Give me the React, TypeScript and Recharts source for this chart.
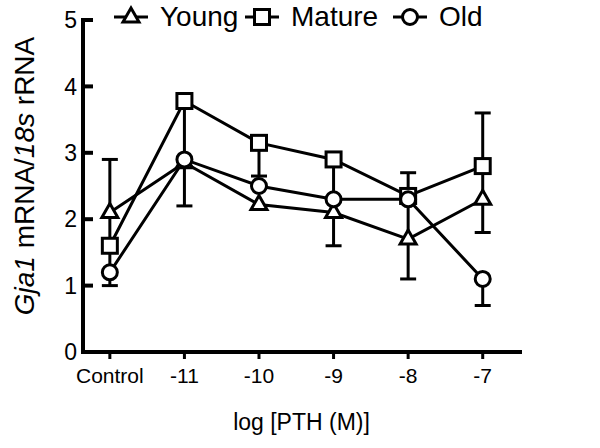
import React from 'react';
import { LineChart, Line, XAxis, YAxis, ErrorBar, Label } from 'recharts';

const FONT = '"Liberation Sans", Arial, sans-serif';

const categories = ['Control', '-11', '-10', '-9', '-8', '-7'];
const young = [2.1, 2.85, 2.22, 2.1, 1.7, 2.3];
const mature = [1.6, 3.78, 3.15, 2.9, 2.35, 2.8];
const old = [1.2, 2.9, 2.5, 2.3, 2.3, 1.1];

// error bar ends, [low, high]; null = no bar visible
const youngErr = [[1.6, 2.9], [2.2, 3.78], null, [1.6, 2.9], [1.1, 2.35], [1.8, 2.8]];
const matureErr = [[1.2, 1.6], null, [2.65, 3.15], null, [2.35, 2.7], [2.8, 3.6]];
const oldErr = [[1.0, 1.2], null, null, null, null, [0.7, 1.1]];

const yTicks = [0, 1, 2, 3, 4, 5];

const toDelta = (v: number, e: number[] | null) => (e ? [v - e[0], e[1] - v] : null);

const rows = categories.map((c, i) => ({
  idx: i,
  label: c,
  young: young[i],
  mature: mature[i],
  old: old[i],
  youngErr: toDelta(young[i], youngErr[i]),
  matureErr: toDelta(mature[i], matureErr[i]),
  oldErr: toDelta(old[i], oldErr[i]),
}));

const SW = 3;

const Triangle = ({ cx, cy, k }: any) => (
  <polygon
    key={k}
    points={`${cx - 8},${cy + 5} ${cx + 8},${cy + 5} ${cx},${cy - 9}`}
    fill="#fff"
    stroke="#000"
    strokeWidth={SW}
  />
);
const Square = ({ cx, cy, k }: any) => (
  <rect key={k} x={cx - 7.5} y={cy - 7.5} width={15} height={15} fill="#fff" stroke="#000" strokeWidth={SW} />
);
const Circle = ({ cx, cy, k }: any) => (
  <circle key={k} cx={cx} cy={cy} r={7.5} fill="#fff" stroke="#000" strokeWidth={SW} />
);

const YTick = (props: any) => {
  const { x, y, payload } = props;
  return (
    <g>
      <line x1={x} x2={x + 10} y1={y} y2={y} stroke="#000" strokeWidth={4} />
      <text x={x - 6} y={y} dy="0.36em" textAnchor="end" fontSize={23} fontFamily={FONT} fill="#000">
        {payload.value}
      </text>
    </g>
  );
};

const YTitle = () => (
  <text
    x={24}
    y={176}
    transform="rotate(-90, 24, 176)"
    textAnchor="middle"
    dy="0.36em"
    fontSize={28}
    fontFamily={FONT}
    fill="#000"
  >
    <tspan fontStyle="italic">Gja1</tspan>
    <tspan> mRNA/</tspan>
    <tspan fontStyle="italic">18s</tspan>
    <tspan> rRNA</tspan>
  </text>
);

const LegendItem = ({ left, name, marker }: { left: number; name: string; marker: string }) => (
  <div style={{ position: 'absolute', left, top: 2, display: 'flex', alignItems: 'center', height: 30 }}>
    <svg width={36} height={30}>
      <line x1={1} x2={35} y1={15} y2={15} stroke="#000" strokeWidth={SW} />
      {marker === 'tri' && <Triangle cx={18} cy={15} />}
      {marker === 'sq' && <Square cx={18} cy={15} />}
      {marker === 'ci' && <Circle cx={18} cy={15} />}
    </svg>
    <span style={{ marginLeft: 11, fontSize: 28, lineHeight: '30px', fontFamily: FONT, color: '#000' }}>{name}</span>
  </div>
);

export default function App() {
  return (
    <div style={{ position: 'relative', width: 600, height: 448, background: '#fff' }}>
      <style>{'body{margin:0}'}</style>
      <LineChart width={600} height={448} data={rows} margin={{ top: 20, right: 80, bottom: 16, left: 43 }}>
        <XAxis
          type="number"
          dataKey="idx"
          domain={[-0.36, 5.5]}
          ticks={[0, 1, 2, 3, 4, 5]}
          tickFormatter={(v) => categories[v]}
          allowDataOverflow
          height={80}
          axisLine={{ stroke: '#000', strokeWidth: 4, strokeLinecap: 'square' }}
          tickLine={{ stroke: '#000', strokeWidth: 3 }}
          tickSize={7}
          tickMargin={9}
          tick={{ fill: '#000', fontSize: 21, fontFamily: FONT }}
        >
          <Label
            value="log [PTH (M)]"
            position="insideBottom"
            offset={2}
            style={{ fontSize: 23, fontFamily: FONT, fill: '#000' }}
          />
        </XAxis>
        <YAxis
          type="number"
          domain={[0, 5]}
          ticks={yTicks}
          width={40}
          tickSize={0}
          tickMargin={0}
          tickLine={false}
          axisLine={{ stroke: '#000', strokeWidth: 4, strokeLinecap: 'square' }}
          tick={<YTick />}
        >
          <Label content={<YTitle />} />
        </YAxis>
        <Line
          dataKey="young"
          stroke="#000"
          strokeWidth={SW}
          isAnimationActive={false}
          activeDot={false}
          dot={(p: any) => <Triangle cx={p.cx} cy={p.cy} k={`y-${p.index}`} key={`y-${p.index}`} />}
        >
          <ErrorBar dataKey="youngErr" direction="y" width={8} stroke="#000" strokeWidth={SW} isAnimationActive={false} />
        </Line>
        <Line
          dataKey="mature"
          stroke="#000"
          strokeWidth={SW}
          isAnimationActive={false}
          activeDot={false}
          dot={(p: any) => <Square cx={p.cx} cy={p.cy} k={`m-${p.index}`} key={`m-${p.index}`} />}
        >
          <ErrorBar dataKey="matureErr" direction="y" width={8} stroke="#000" strokeWidth={SW} isAnimationActive={false} />
        </Line>
        <Line
          dataKey="old"
          stroke="#000"
          strokeWidth={SW}
          isAnimationActive={false}
          activeDot={false}
          dot={(p: any) => <Circle cx={p.cx} cy={p.cy} k={`o-${p.index}`} key={`o-${p.index}`} />}
        >
          <ErrorBar dataKey="oldErr" direction="y" width={8} stroke="#000" strokeWidth={SW} isAnimationActive={false} />
        </Line>
      </LineChart>
      <LegendItem left={113} name="Young" marker="tri" />
      <LegendItem left={244} name="Mature" marker="sq" />
      <LegendItem left={392} name="Old" marker="ci" />
    </div>
  );
}
